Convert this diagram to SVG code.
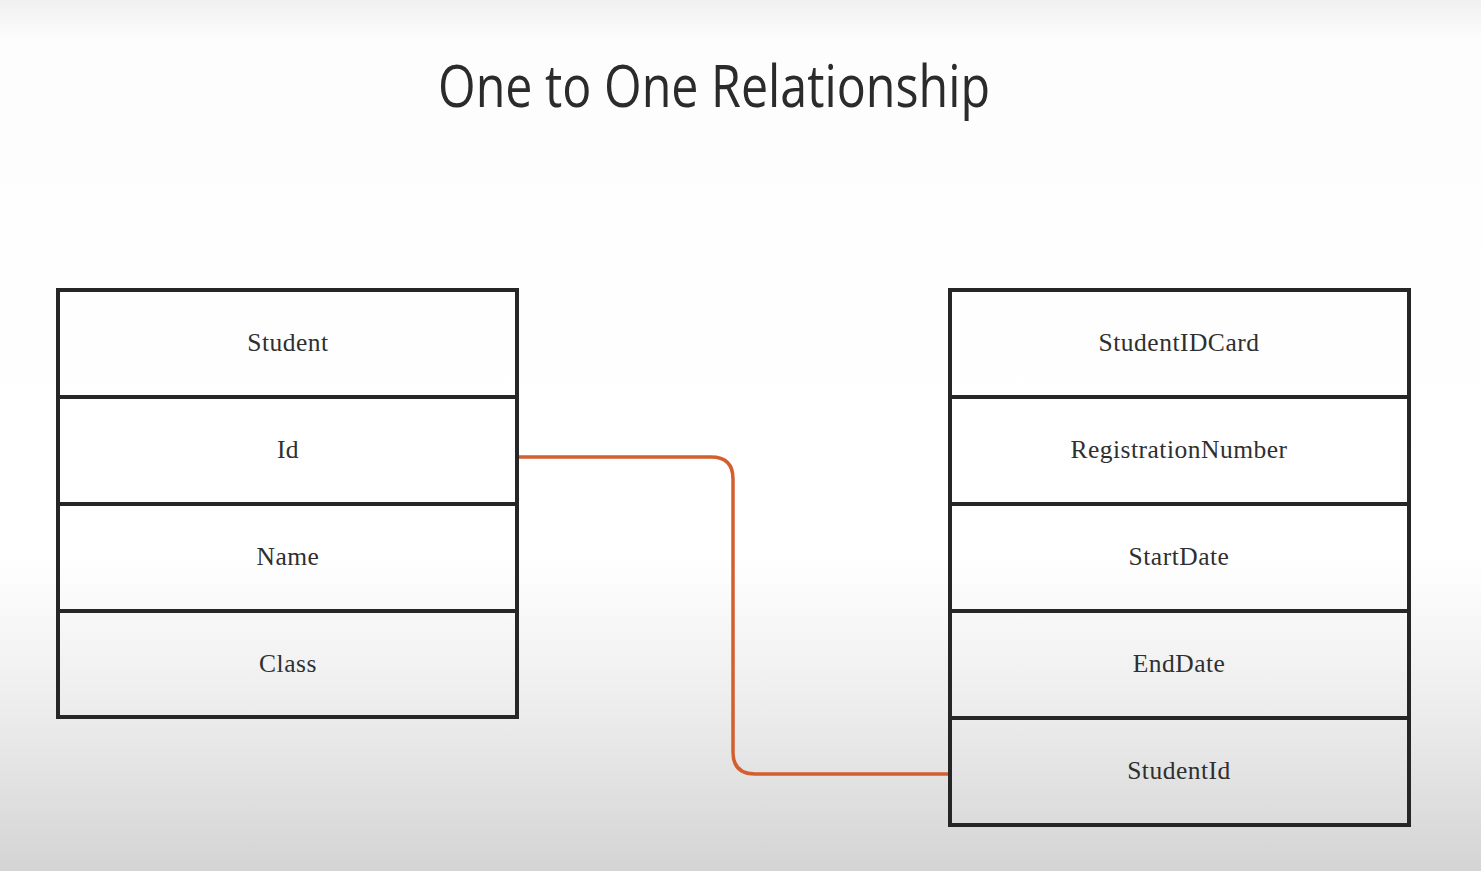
<svg xmlns="http://www.w3.org/2000/svg" width="1481" height="871" viewBox="0 0 1481 871">
  <defs>
    <linearGradient id="bg" x1="0" y1="0" x2="0" y2="1">
      <stop offset="0" stop-color="#f0f0f0"/>
      <stop offset="0.045" stop-color="#fdfdfd"/>
      <stop offset="0.64" stop-color="#ffffff"/>
      <stop offset="0.82" stop-color="#ececec"/>
      <stop offset="1" stop-color="#d4d4d4"/>
    </linearGradient>
  </defs>
  <style>
    .cell { fill: none; stroke: #262626; stroke-width: 4; }
    .lbl { font-family: "Liberation Serif", "DejaVu Serif", serif; font-size: 25.5px; fill: #2f2f2f; text-anchor: middle; letter-spacing: 0.5px; }
    .title { font-family: "Liberation Sans Narrow", "Open Sans", "Liberation Sans", sans-serif; font-size: 58px; fill: #2b2b2b; }
    .conn { fill: none; stroke: #d35f2f; stroke-width: 3.5; }
  </style>
  <rect x="0" y="0" width="1481" height="871" fill="url(#bg)"/>
  <text class="title" x="438" y="107" textLength="552" lengthAdjust="spacingAndGlyphs">One to One Relationship</text>

  <g id="connectors">
    <path class="conn" d="M517 457 H711 Q733 457 733 479 V752 Q733 774 755 774 H950"/>
  </g>

  <g id="student">
    <rect class="cell" x="58" y="290" width="459" height="107"/>
    <rect class="cell" x="58" y="397" width="459" height="107"/>
    <rect class="cell" x="58" y="504" width="459" height="107"/>
    <rect class="cell" x="58" y="611" width="459" height="106"/>
    <text class="lbl" x="288" y="351">Student</text>
    <text class="lbl" x="288" y="458">Id</text>
    <text class="lbl" x="288" y="565">Name</text>
    <text class="lbl" x="288" y="672">Class</text>
  </g>

  <g id="studentidcard">
    <rect class="cell" x="950" y="290" width="459" height="107"/>
    <rect class="cell" x="950" y="397" width="459" height="107"/>
    <rect class="cell" x="950" y="504" width="459" height="107"/>
    <rect class="cell" x="950" y="611" width="459" height="107"/>
    <rect class="cell" x="950" y="718" width="459" height="107"/>
    <text class="lbl" x="1179" y="351">StudentIDCard</text>
    <text class="lbl" x="1179" y="458">RegistrationNumber</text>
    <text class="lbl" x="1179" y="565">StartDate</text>
    <text class="lbl" x="1179" y="672">EndDate</text>
    <text class="lbl" x="1179" y="779">StudentId</text>
  </g>
</svg>
